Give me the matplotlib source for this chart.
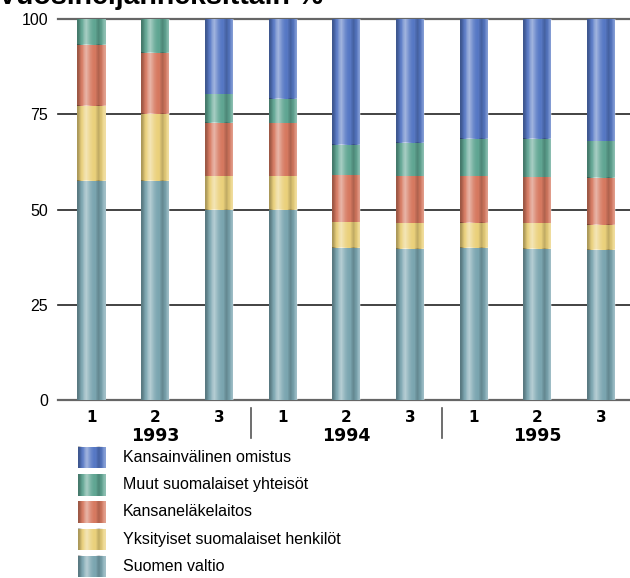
import numpy as np
import matplotlib
matplotlib.use('Agg')
import matplotlib.pyplot as plt
from matplotlib.patches import Rectangle
import matplotlib.transforms as mtransforms

plt.rcParams['font.family'] = ['Liberation Sans', 'DejaVu Sans']

# ── data ──────────────────────────────────────────────────────────
quarters = ['1', '2', '3', '1', '2', '3', '1', '2', '3']
years = ['1993', '1994', '1995']

series_names = [
    'Suomen valtio',
    'Yksityiset suomalaiset henkilöt',
    'Kansaneläkelaitos',
    'Muut suomalaiset yhteisöt',
    'Kansainvälinen omistus',
]
valtio = [57.5, 57.5, 49.9, 50.0, 40.0, 39.7, 39.9, 39.7, 39.4]
yksityiset = [19.7, 17.6, 8.9, 8.8, 6.8, 6.8, 6.6, 6.8, 6.6]
kela = [16.0, 16.0, 13.9, 13.8, 12.2, 12.3, 12.3, 12.0, 12.4]
muut = [6.8, 8.9, 7.6, 6.4, 7.9, 8.7, 9.7, 10.0, 9.6]
kansainvalinen = [0.0, 0.0, 19.7, 21.0, 33.1, 32.5, 31.5, 31.5, 32.0]

series = [valtio, yksityiset, kela, muut, kansainvalinen]
colors = ['#7aa5b0', '#ead07a', '#d6785f', '#5fa592', '#5577c4']

yticks = [0, 25, 50, 75, 100]

# ── stripe shading (vertical bands across each bar) ──────────────
band = np.array([-0.45, -0.2, 0.05, 0.3, 0.45, 0.3, 0.15, 0.05, 0.0,
                 -0.15, -0.3, -0.1, 0.15, 0.3])


def stripe_overlay():
    rgba = np.zeros((1, len(band), 4))
    for i, v in enumerate(band):
        if v >= 0:
            rgba[0, i, :3] = 1.0
            rgba[0, i, 3] = v
        else:
            rgba[0, i, :3] = 0.0
            rgba[0, i, 3] = -v * 0.6
    return rgba


overlay = stripe_overlay()


def shade(ax, x0, y0, w, h, z):
    ax.imshow(overlay, extent=(x0, x0 + w, y0, y0 + h), aspect='auto',
              interpolation='bilinear', zorder=z)


W, H = 630, 578
fig = plt.figure(figsize=(W / 100, H / 100), dpi=100)

y0_px, y100_px = 400.4, 18.9
ax = fig.add_axes([58 / W, 1 - y0_px / H, 572 / W, (y0_px - y100_px) / H])

x = np.arange(len(quarters))
bw = 0.44
bottom = np.zeros(len(x))
for vals, col in zip(series, colors):
    bars = ax.bar(x, vals, bw, bottom=bottom, color=col, linewidth=0, zorder=2)
    for b in bars:
        if b.get_height() > 0:
            shade(ax, b.get_x(), b.get_y(), b.get_width(), b.get_height(), 3)
    bottom += np.array(vals)

ax.set_xlim(-0.526, 8.454)
ax.set_ylim(0, 100)

for v in yticks:
    c = '#666666' if v in (0, 100) else '#222222'
    ax.axhline(v, color=c, lw=1.6 if v in (0, 100) else 1.2, zorder=1,
               clip_on=False)

for s in ax.spines.values():
    s.set_visible(False)

ax.set_yticks(yticks)
ax.set_yticklabels([str(v) for v in yticks], fontsize=11.5)
ax.tick_params(axis='y', length=0, pad=7)
ax.set_xticks(x)
ax.set_xticklabels(quarters, fontsize=11, fontweight='bold',
                   family='DejaVu Sans')
ax.tick_params(axis='x', length=0, pad=7)

trans = mtransforms.blended_transform_factory(ax.transData, ax.transAxes)


def ax_y(py):
    return (y0_px - py) / (y0_px - y100_px)


for i, yr in enumerate(years):
    ax.text(3 * i + 1, ax_y(436), yr, transform=trans, ha='center',
            va='center', fontsize=12.5, fontweight='bold', family='DejaVu Sans')
for sep in (2.5, 5.5):
    ax.plot([sep, sep], [ax_y(408), ax_y(438)], transform=trans,
            color='#555555', lw=1.2, clip_on=False)

# ── title (cut off at the top edge, as in the source) ─────────────
fig.text(-2 / W, 1 - 4.5 / H, 'Vuosineljänneksittäin %', ha='left',
         va='baseline', fontsize=20.5, fontweight='bold')

# ── legend ───────────────────────────────────────────────────────
lax = fig.add_axes([0, 0, 1, 1])
lax.axis('off')
row_y = [457.5, 485, 512, 539.5, 566.5]
for name, col, cy in zip(series_names[::-1], colors[::-1], row_y):
    lax.add_patch(Rectangle((78, cy - 10.8), 28, 21.6, facecolor=col,
                            linewidth=0, zorder=2))
    lax.imshow(overlay, extent=(78, 106, cy + 10.8, cy - 10.8), aspect='auto',
               interpolation='bilinear', zorder=3)
    lax.text(123, cy, name, ha='left', va='center', fontsize=11.5)
lax.set_xlim(0, W)
lax.set_ylim(H, 0)

fig.savefig('out.png', dpi=100)
